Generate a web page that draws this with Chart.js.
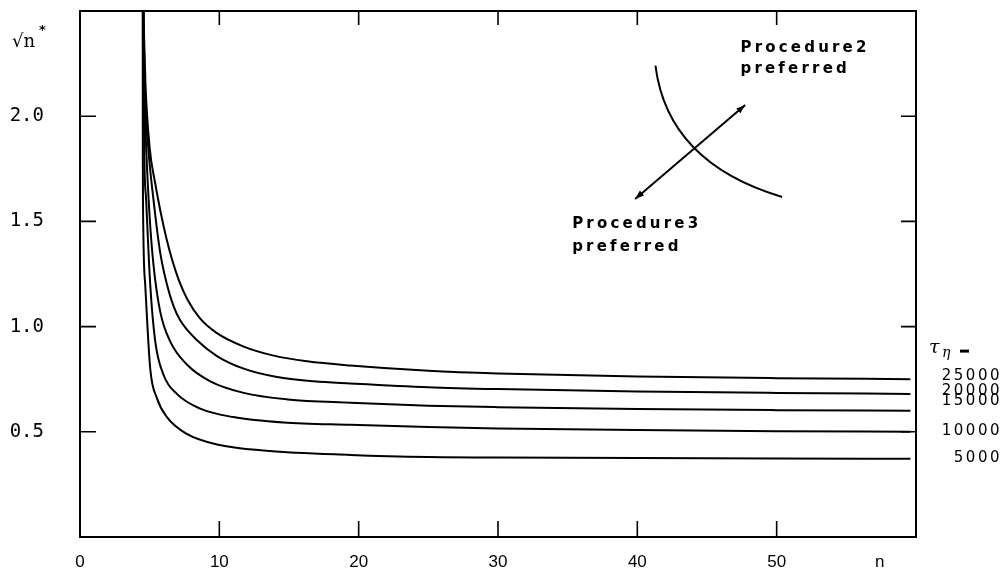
<!DOCTYPE html>
<html>
<head>
<meta charset="utf-8">
<script src="https://cdn.jsdelivr.net/npm/chart.js@4.4.1/dist/chart.umd.min.js"></script>
<style>
  html, body { margin: 0; padding: 0; background: #fff; }
  #c { display: block; }
</style>
</head>
<body>
<canvas id="c" width="1005" height="570"></canvas>
<script>
// ---- data ----
const seriesNames = ['25000', '20000', '15000', '10000', '5000'];

const n25000 = [4.55, 4.70, 5.00, 5.40, 5.80, 6.20, 6.60, 7.10, 7.70, 8.60, 9.80, 11.75, 13.9, 16.3, 19.4, 25, 30, 40, 50, 59.6];
const v25000 = [2.50, 2.15, 1.85, 1.68, 1.54, 1.42, 1.32, 1.22, 1.13, 1.04, 0.97, 0.905, 0.862, 0.835, 0.815, 0.79, 0.777, 0.763, 0.755, 0.75];

const n20000 = [4.55, 4.64, 4.90, 5.28, 5.76, 6.24, 6.70, 7.19, 8.40, 9.83, 11.75, 14.15, 16.8, 19.4, 25, 30, 40, 50, 59.6];
const v20000 = [2.50, 2.15, 1.85, 1.60, 1.35, 1.20, 1.10, 1.03, 0.935, 0.86, 0.80, 0.76, 0.74, 0.73, 0.712, 0.703, 0.692, 0.685, 0.68];

const n15000 = [4.55, 4.60, 4.75, 5.00, 5.28, 5.76, 6.47, 7.67, 9.35, 11.75, 14.9, 19.4, 25, 30, 40, 50, 59.6];
const v15000 = [2.50, 2.15, 1.85, 1.52, 1.29, 1.07, 0.93, 0.82, 0.74, 0.685, 0.654, 0.638, 0.624, 0.617, 0.608, 0.603, 0.60];

const n10000 = [4.55, 4.57, 4.62, 4.75, 5.04, 5.40, 6.00, 6.95, 8.63, 11.0, 14.6, 19.4, 25, 30, 40, 50, 59.6];
const v10000 = [2.50, 2.15, 1.80, 1.60, 1.20, 0.93, 0.77, 0.68, 0.61, 0.57, 0.544, 0.533, 0.523, 0.516, 0.508, 0.503, 0.50];

const n5000 = [4.50, 4.505, 4.51, 4.52, 4.68, 5.04, 5.52, 6.24, 7.67, 9.83, 13.4, 19.4, 25, 30, 40, 50, 59.6];
const v5000 = [2.50, 2.15, 1.80, 1.60, 1.20, 0.80, 0.66, 0.57, 0.49, 0.44, 0.41, 0.39, 0.38, 0.378, 0.375, 0.373, 0.372];

const xTickValues = [0, 10, 20, 30, 40, 50];
const xAxisLetter = 'n';
const xAxisLetterAt = 57.4;
const yTickValues = [0.5, 1.0, 1.5, 2.0];
const yAxisLabel = '√n';
const legendTitle = 'τ';
const legendSub = 'η';

// ---- annotation (in data units) ----
const arcPts = { start: [41.3, 2.24], ctrl: [42.18, 1.778], end: [50.39, 1.616] };
const arrowPts = { tail: [39.84, 1.607], head: [47.74, 2.053] };
const proc2Text = ['Procedure2', 'preferred'];
const proc3Text = ['Procedure3', 'preferred'];
const proc2At = [47.4, 2.324];
const proc3At = [35.32, 1.488];

const allN = [n25000, n20000, n15000, n10000, n5000];
const allV = [v25000, v20000, v15000, v10000, v5000];
const labelOffsets = [-3, -3, -10, -1, -1];

const datasets = seriesNames.map((name, k) => ({
  label: name,
  data: allN[k].map((x, i) => ({ x: x, y: allV[k][i] })),
  borderColor: '#000',
  borderWidth: 2,
  pointRadius: 0,
  fill: false,
  cubicInterpolationMode: 'monotone'
}));

const decor = {
  id: 'decor',
  afterDraw(chart) {
    const ctx = chart.ctx;
    const a = chart.chartArea;
    const xs = chart.scales.x, ys = chart.scales.y;
    const P = (p) => [xs.getPixelForValue(p[0]), ys.getPixelForValue(p[1])];
    ctx.save();
    ctx.strokeStyle = '#000';
    ctx.fillStyle = '#000';
    // frame
    ctx.lineWidth = 2;
    ctx.strokeRect(a.left, a.top, a.right - a.left, a.bottom - a.top);
    // inner ticks
    ctx.lineWidth = 1.6;
    ctx.beginPath();
    xTickValues.filter(v => v > 0).forEach(v => {
      const px = xs.getPixelForValue(v);
      ctx.moveTo(px, a.bottom); ctx.lineTo(px, a.bottom - 16);
      ctx.moveTo(px, a.top); ctx.lineTo(px, a.top + 14);
    });
    yTickValues.forEach(v => {
      const py = ys.getPixelForValue(v);
      ctx.moveTo(a.left, py); ctx.lineTo(a.left + 16, py);
      ctx.moveTo(a.right, py); ctx.lineTo(a.right - 15, py);
    });
    ctx.stroke();

    // y axis label
    ctx.textBaseline = 'middle';
    ctx.textAlign = 'left';
    ctx.font = '18px "DejaVu Serif"';
    ctx.fillText(yAxisLabel, 12, 42);
    ctx.font = 'bold 13px "DejaVu Sans"';
    ctx.fillText('*', 39, 31);

    // legend title tau_eta =
    const ty = ys.getPixelForValue(1.0) + 21;
    ctx.font = 'italic 19px "DejaVu Serif"';
    ctx.fillText(legendTitle, a.right + 13, ty);
    ctx.font = 'italic 14px "DejaVu Serif"';
    ctx.fillText(legendSub, a.right + 26, ty + 6);
    ctx.fillRect(a.right + 44, ty + 2, 9, 3);

    // series labels
    ctx.font = '15px "DejaVu Sans"';
    ctx.letterSpacing = '2.5px';
    ctx.textAlign = 'right';
    seriesNames.forEach((name, k) => {
      const last = allV[k][allV[k].length - 1];
      const py = ys.getPixelForValue(last) + labelOffsets[k];
      ctx.fillText(name, 1002, py);
    });

    // annotation arc
    ctx.letterSpacing = '0px';
    ctx.lineWidth = 2;
    const s = P(arcPts.start), c = P(arcPts.ctrl), e = P(arcPts.end);
    ctx.beginPath();
    ctx.moveTo(s[0], s[1]);
    ctx.quadraticCurveTo(c[0], c[1], e[0], e[1]);
    ctx.stroke();
    // double arrow
    const t = P(arrowPts.tail), h = P(arrowPts.head);
    ctx.beginPath();
    ctx.moveTo(t[0], t[1]); ctx.lineTo(h[0], h[1]);
    ctx.stroke();
    const head = (from, to) => {
      const ang = Math.atan2(to[1] - from[1], to[0] - from[0]);
      const L = 9, W = 3.2;
      ctx.beginPath();
      ctx.moveTo(to[0], to[1]);
      ctx.lineTo(to[0] - L * Math.cos(ang) + W * Math.sin(ang), to[1] - L * Math.sin(ang) - W * Math.cos(ang));
      ctx.lineTo(to[0] - L * Math.cos(ang) - W * Math.sin(ang), to[1] - L * Math.sin(ang) + W * Math.cos(ang));
      ctx.closePath();
      ctx.fill();
    };
    head(t, h); head(h, t);

    // annotation texts
    ctx.textAlign = 'left';
    ctx.font = 'bold 15px "DejaVu Sans"';
    ctx.letterSpacing = '3.2px';
    const p2 = P(proc2At), p3 = P(proc3At);
    ctx.fillText(proc2Text[0], p2[0], p2[1]);
    ctx.fillText(proc2Text[1], p2[0], p2[1] + 21);
    ctx.fillText(proc3Text[0], p3[0], p3[1]);
    ctx.fillText(proc3Text[1], p3[0], p3[1] + 23);
    ctx.restore();
  }
};

new Chart(document.getElementById('c'), {
  type: 'line',
  data: { datasets: datasets },
  options: {
    responsive: false,
    animation: false,
    devicePixelRatio: 1,
    layout: { padding: { top: 11, right: 89, left: 0, bottom: 0 } },
    plugins: { legend: { display: false }, tooltip: { enabled: false } },
    scales: {
      x: {
        type: 'linear', min: 0, max: 60,
        afterBuildTicks: (sc) => { sc.ticks = xTickValues.concat([xAxisLetterAt]).map(v => ({ value: v })); },
        afterFit: (sc) => { sc.height = 33; sc.paddingLeft = 0; sc.paddingRight = 0; sc.paddingTop = 0; sc.paddingBottom = 0; },
        grid: { display: false },
        border: { display: false },
        ticks: {
          autoSkip: false, maxRotation: 0, padding: 7, color: '#000',
          font: { family: '"Liberation Sans"', size: 17 },
          callback: (v) => v === xAxisLetterAt ? xAxisLetter : String(v)
        }
      },
      y: {
        type: 'linear', min: 0, max: 2.5,
        afterBuildTicks: (sc) => { sc.ticks = yTickValues.map(v => ({ value: v })); },
        afterFit: (sc) => { sc.width = 80; sc.paddingTop = 0; sc.paddingBottom = 0; sc.paddingLeft = 0; sc.paddingRight = 0; },
        grid: { display: false },
        border: { display: false },
        ticks: {
          padding: 28, color: '#000',
          font: { family: '"DejaVu Sans Mono"', size: 19 },
          callback: (v) => Number(v).toFixed(1)
        }
      }
    }
  },
  plugins: [decor]
});
</script>
</body>
</html>
